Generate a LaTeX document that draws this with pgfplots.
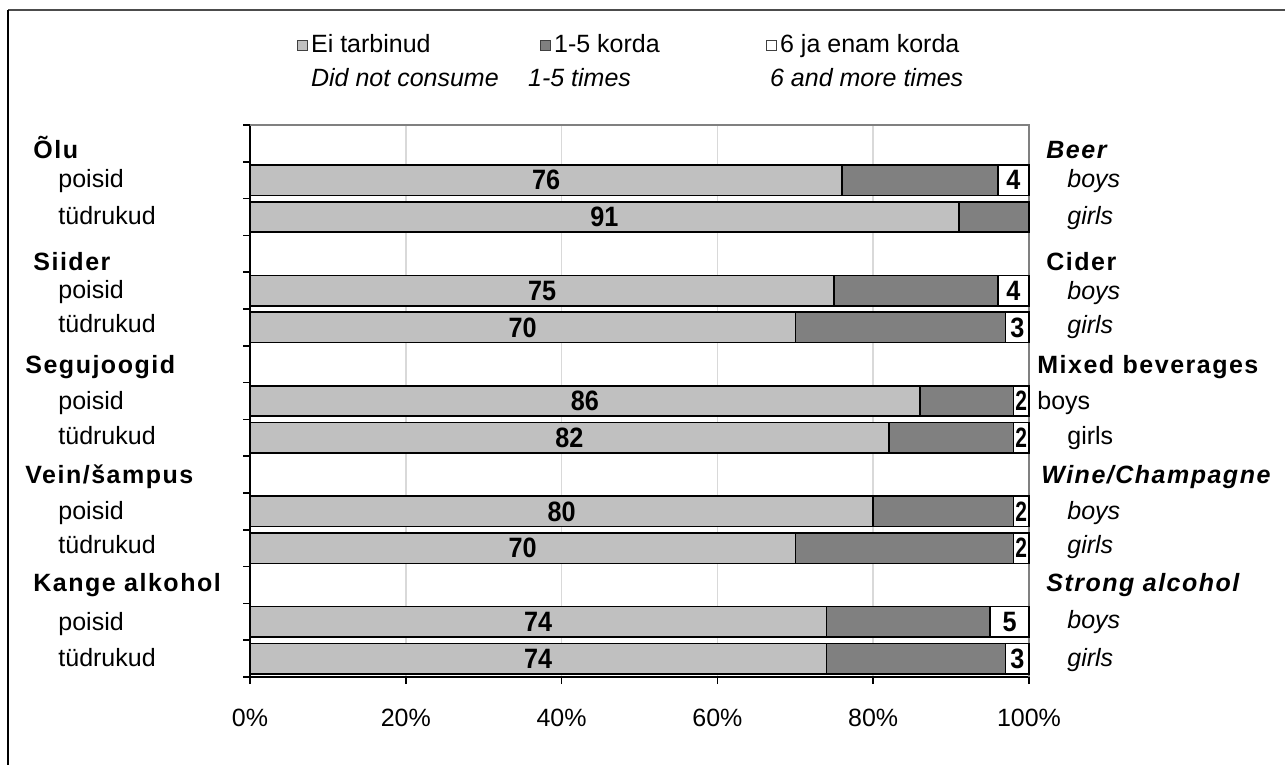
\documentclass[border=0pt]{standalone}
\usepackage{pgfplots}
\pgfplotsset{compat=1.18}
\usepackage{graphicx}
\usepackage{fontspec}
\setmainfont{Liberation Sans}
\newfontfamily\hd[LetterSpace=6]{Liberation Sans}
\definecolor{lgray}{HTML}{C0C0C0}
\definecolor{dgray}{HTML}{808080}
\definecolor{gridc}{HTML}{D9D9D9}

\begin{document}
\fontsize{12.5}{15}\selectfont
\begin{tikzpicture}[x=0.5pt,y=-0.5pt,
  lab/.style={anchor=west, inner sep=0pt, text height=0.72em, text depth=0.21em},
  hdr/.style={lab, font=\hd\bfseries}]
\useasboundingbox (0,0) rectangle (1285,765);
\draw[black!70, line width=1pt] (8,10) -- (1285,10);
\draw[black, line width=1pt] (8,10) -- (8,765);
\coordinate (A) at (250,677);

% rows from the top: 15 = Olu header, 14 poisid, 13 tudrukud, ...
\begin{axis}[
  at={(A)}, anchor=south west,
  width=389.5pt, height=276pt, scale only axis,
  xbar stacked, bar width=0.83,
  xmin=0, xmax=100, ymin=0.5, ymax=15.5,
  axis lines*=left, axis line style={black, line width=0.8pt},
  xtick={0,20,...,100}, xticklabels={0\%,20\%,40\%,60\%,80\%,100\%},
  ytick={0.5,1.5,...,15.5}, yticklabels={},
  tick align=outside, major tick length=3.5pt,
  tick style={black, line width=0.8pt},
  xmajorgrids, grid style={gridc, line width=0.8pt},
  xticklabel style={yshift=-8pt},
  legend columns=3, legend cell align=left,
  legend style={at={(axis description cs:0.06,1.17)}, anchor=north west,
    draw=none, fill=none, inner sep=0pt, row sep=3pt,
    nodes={inner sep=1.5pt}},
  legend image code/.code={\draw[#1, line width=0.5pt, draw=black!75] (0pt,-2.5pt) rectangle (5pt,2.5pt);},
  clip=false,
]
\addplot[fill=lgray, draw=black, line width=0.8pt] coordinates {
  (76,14) (91,13) (75,11) (70,10) (86,8) (82,7) (80,5) (70,4) (74,2) (74,1)};
\addlegendentry{\makebox[113pt][l]{Ei tarbinud}}
\addplot[fill=dgray, draw=black, line width=0.8pt] coordinates {
  (20,14) (9,13) (21,11) (27,10) (12,8) (16,7) (18,5) (28,4) (21,2) (23,1)};
\addlegendentry{\makebox[104.5pt][l]{1-5 korda}}
\addplot[fill=white, draw=black, line width=0.8pt] coordinates {
  (4,14) (0,13) (4,11) (3,10) (2,8) (2,7) (2,5) (2,4) (5,2) (3,1)};
\addlegendentry{6 ja enam korda}
\addlegendimage{empty legend}
\addlegendentry{\textit{Did not consume}}
\addlegendimage{empty legend}
\addlegendentry{\hspace*{-13pt}\textit{1-5 times}}
\addlegendimage{empty legend}
\addlegendentry{\hspace*{-5pt}\textit{6 and more times}}
\draw[dgray, line width=0.8pt] (axis description cs:0,1) -- (axis description cs:1,1) -- (axis description cs:1,0);
\end{axis}

% data labels, same geometry
\begin{axis}[
  at={(A)}, anchor=south west,
  width=389.5pt, height=276pt, scale only axis,
  xmin=0, xmax=100, ymin=0.5, ymax=15.5, hide axis, clip=false,
  every node near coord/.append style={anchor=center, font=\fontsize{14}{16}\selectfont\bfseries, inner sep=0pt},
]
\addplot[draw=none, mark=none, nodes near coords={\scalebox{0.9}[1]{\pgfplotspointmeta}}, point meta=explicit symbolic] coordinates {
  (38,14) [76] (45.5,13) [91] (37.5,11) [75] (35,10) [70] (43,8) [86]
  (41,7) [82] (40,5) [80] (35,4) [70] (37,2) [74] (37,1) [74]};
\addplot[draw=none, mark=none, nodes near coords={\scalebox{0.9}[1]{\pgfplotspointmeta}}, point meta=explicit symbolic] coordinates {
  (98,14) [4] (98,11) [4] (98.5,10) [3] (97.5,2) [5] (98.5,1) [3]};
\addplot[draw=none, mark=none, nodes near coords={\scalebox{0.75}[1]{\pgfplotspointmeta}}, point meta=explicit symbolic] coordinates {
  (99,8) [2] (99,7) [2] (99,5) [2] (99,4) [2]};
\end{axis}

% left labels
\node[hdr] at (33,152) {Õlu};
\node[lab] at (58,181) {poisid};
\node[lab] at (58,218) {tüdrukud};
\node[hdr] at (33,264) {Siider};
\node[lab] at (58,292) {poisid};
\node[lab] at (58,326) {tüdrukud};
\node[hdr] at (25,367) {Segujoogid};
\node[lab] at (58,403) {poisid};
\node[lab] at (58,438) {tüdrukud};
\node[hdr] at (25,477) {Vein/šampus};
\node[lab] at (58,513) {poisid};
\node[lab] at (58,547) {tüdrukud};
\node[hdr] at (33,585) {Kange alkohol};
\node[lab] at (58,624) {poisid};
\node[lab] at (58,660) {tüdrukud};

% right labels
\node[hdr, font=\hd\bfseries\itshape] at (1046,152) {Beer};
\node[lab, font=\itshape] at (1067,181) {boys};
\node[lab, font=\itshape] at (1067,218) {girls};
\node[hdr] at (1046,264) {Cider};
\node[lab, font=\itshape] at (1067,293) {boys};
\node[lab, font=\itshape] at (1067,327) {girls};
\node[hdr] at (1037,367) {Mixed beverages};
\node[lab] at (1037,403) {boys};
\node[lab] at (1067,438) {girls};
\node[hdr, font=\hd\bfseries\itshape] at (1041,477) {Wine/Champagne};
\node[lab, font=\itshape] at (1067,513) {boys};
\node[lab, font=\itshape] at (1067,547) {girls};
\node[hdr, font=\hd\bfseries\itshape] at (1046,585) {Strong alcohol};
\node[lab, font=\itshape] at (1067,622) {boys};
\node[lab, font=\itshape] at (1067,660) {girls};
\end{tikzpicture}
\end{document}
